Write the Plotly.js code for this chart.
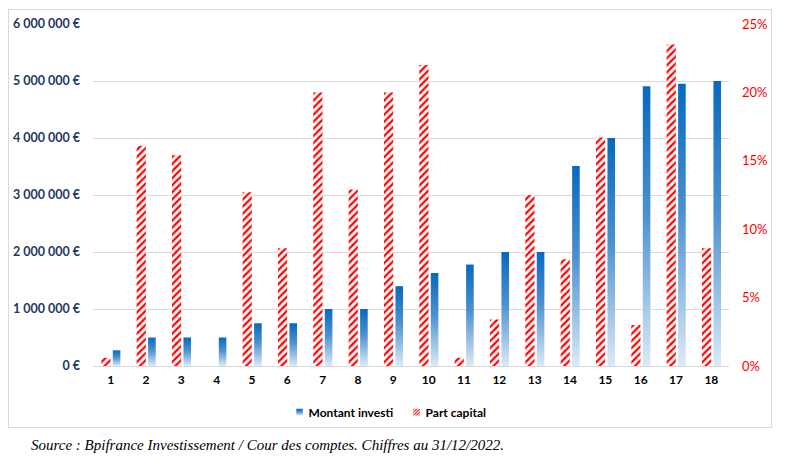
<!DOCTYPE html>
<html>
<head>
<meta charset="utf-8">
<script src="https://cdn.plot.ly/plotly-3.0.1.min.js"></script>
<style>
  html, body { margin: 0; padding: 0; background: #ffffff; }
  #wrap { position: relative; width: 790px; height: 466px; overflow: hidden; }
  #chart { position: absolute; left: 0; top: 0; width: 790px; height: 466px; }
  #frame { position: absolute; left: 8px; top: 9px; width: 762px; height: 417px;
           border: 1.5px solid #D9D9D9; pointer-events: none; }
  #source { position: absolute; left: 31px; top: 437px; font-family: "Liberation Serif", "DejaVu Serif", serif;
            font-style: italic; font-size: 15px; color: #000; white-space: nowrap; }
</style>
</head>
<body>
<div id="wrap">
  <div id="chart"></div>
  <div id="frame"></div>
  <div id="source">Source : Bpifrance Investissement / Cour des comptes. Chiffres au 31/12/2022.</div>
</div>
<script>
// ---- Data ----
const categories = ['1','2','3','4','5','6','7','8','9','10','11','12','13','14','15','16','17','18'];
const montantInvesti = [275000, 500000, 500000, 500000, 750000, 750000, 1000000, 1000000, 1400000,
                        1630000, 1780000, 2000000, 2000000, 3510000, 4000000, 4910000, 4950000, 5000000];
const partCapitalPct = [0.6, 16.1, 15.4, 0, 12.7, 8.6, 20.0, 12.9, 20.0,
                        22.0, 0.6, 3.4, 12.5, 7.8, 16.7, 3.0, 23.5, 8.6];
const seriesNames = ['Montant investi', 'Part capital'];

const tickFont = { family: 'Lato, "Liberation Sans", sans-serif', size: 12.5, color: '#1F3864', weight: 700 };

const traceCapital = {
  type: 'bar',
  name: seriesNames[1],
  x: categories,
  y: partCapitalPct.map(v => v / 100),
  yaxis: 'y2',
  offset: -0.265,
  width: 0.26,
  marker: {
    color: '#ffffff',
    line: { width: 0 },
    pattern: { shape: '/', fgcolor: '#FF0000', bgcolor: '#ffffff', size: 5, solidity: 0.45, fillmode: 'replace' }
  },
  legendrank: 2,
  hoverinfo: 'skip'
};

const traceMontant = {
  type: 'bar',
  name: seriesNames[0],
  x: categories,
  y: montantInvesti,
  yaxis: 'y',
  offset: 0.06,
  width: 0.215,
  marker: { color: '#2E7CC6', line: { width: 0 } },
  legendrank: 1,
  hoverinfo: 'skip'
};

const layout = {
  width: 790,
  height: 466,
  margin: { l: 93, r: 61, t: 24, b: 100 },
  paper_bgcolor: 'rgba(0,0,0,0)',
  plot_bgcolor: 'rgba(0,0,0,0)',
  separators: ', ',
  barmode: 'overlay',
  showlegend: true,
  legend: {
    orientation: 'h',
    x: 0.46, xanchor: 'center',
    y: -0.135, yanchor: 'middle',
    font: { family: 'Lato, "Liberation Sans", sans-serif', size: 12, color: '#000000', weight: 700 },
    itemwidth: 30,
    entrywidth: 72,
    entrywidthmode: 'pixels',
    traceorder: 'normal'
  },
  xaxis: {
    type: 'category',
    tickfont: { family: 'Lato, "Liberation Sans", sans-serif', size: 12, color: '#000000', weight: 700 },
    showgrid: false,
    showline: false,
    zeroline: false,
    ticks: '',
    ticklabelstandoff: 5
  },
  yaxis: {
    range: [0, 6000000],
    dtick: 1000000,
    tickformat: ',.0f',
    ticksuffix: ' €',
    tickfont: tickFont,
    gridcolor: '#D9D9D9',
    gridwidth: 1,
    zeroline: true,
    zerolinecolor: '#D9D9D9',
    zerolinewidth: 1,
    showline: false,
    ticks: '',
    ticklabelstandoff: 12
  },
  yaxis2: {
    overlaying: 'y',
    side: 'right',
    range: [0, 0.25],
    dtick: 0.05,
    tickformat: '.0%',
    tickfont: { family: 'Lato, "Liberation Sans", sans-serif', size: 13, color: '#FF0000' },
    showgrid: false,
    zeroline: false,
    showline: false,
    ticks: '',
    ticklabelstandoff: 12
  }
};

function applyGradient(gd) {
  const svg = gd.querySelector('svg.main-svg');
  if (!svg) return;
  const ns = 'http://www.w3.org/2000/svg';
  if (!svg.querySelector('#blueGrad')) {
    let defs = svg.querySelector('defs');
    if (!defs) { defs = document.createElementNS(ns, 'defs'); svg.insertBefore(defs, svg.firstChild); }
    const lg = document.createElementNS(ns, 'linearGradient');
    lg.setAttribute('id', 'blueGrad');
    lg.setAttribute('x1', '0'); lg.setAttribute('y1', '0');
    lg.setAttribute('x2', '0'); lg.setAttribute('y2', '1');
    const stops = [['0', '#0769BE'], ['0.45', '#4A90CF'], ['1', '#DCEAF6']];
    stops.forEach(s => {
      const st = document.createElementNS(ns, 'stop');
      st.setAttribute('offset', s[0]);
      st.setAttribute('stop-color', s[1]);
      lg.appendChild(st);
    });
    defs.appendChild(lg);
  }
  gd.querySelectorAll('.barlayer .trace').forEach(t => {
    const d = t.__data__;
    const tr = d && d[0] && d[0].trace;
    if (tr && tr.name === seriesNames[0]) {
      t.querySelectorAll('path').forEach(p => { p.style.fill = 'url(#blueGrad)'; });
    }
  });
  gd.querySelectorAll('.legend .traces').forEach(t => {
    const d = t.__data__;
    const tr = d && d[0] && d[0].trace;
    t.querySelectorAll('.legendpoints path').forEach(p => {
      p.setAttribute('transform', 'translate(31,0) scale(0.55)');
      if (tr && tr.name === seriesNames[0]) p.style.fill = 'url(#blueGrad)';
    });
  });
}

const gd = document.getElementById('chart');
Plotly.newPlot(gd, [traceMontant, traceCapital], layout, { staticPlot: true, displayModeBar: false })
  .then(() => applyGradient(gd));
</script>
</body>
</html>
